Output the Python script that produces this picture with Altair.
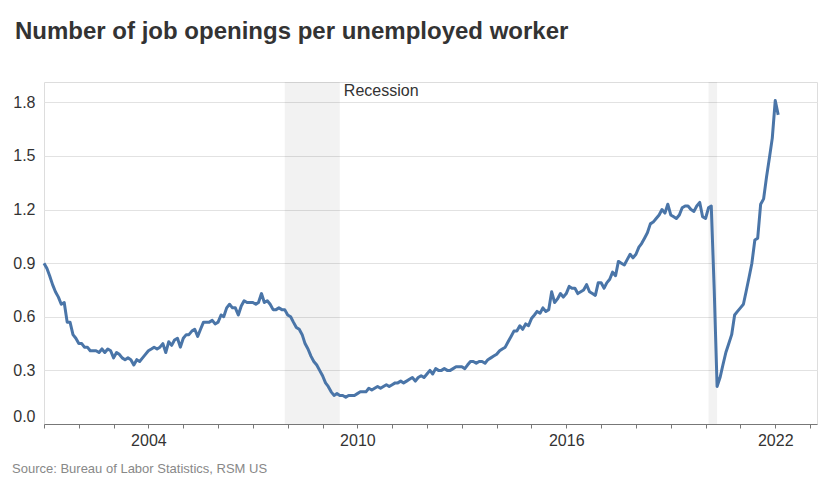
import altair as alt
import pandas as pd

FONT = "Liberation Sans, Arial, sans-serif"
TEXT = "#333333"

# Monthly ratio of job openings per unemployed worker
v2001 = [0.90, 0.87, 0.83, 0.78, 0.74, 0.71, 0.67, 0.68, 0.57, 0.57, 0.50, 0.48]
v2002 = [0.45, 0.45, 0.43, 0.43, 0.41, 0.41, 0.41, 0.40, 0.42, 0.40, 0.42, 0.41]
v2003 = [0.37, 0.40, 0.39, 0.37, 0.36, 0.37, 0.36, 0.33, 0.36, 0.35, 0.37, 0.39]
v2004 = [0.41, 0.42, 0.43, 0.42, 0.43, 0.45, 0.40, 0.46, 0.44, 0.47, 0.48, 0.43]
v2005 = [0.48, 0.50, 0.50, 0.52, 0.53, 0.49, 0.53, 0.57, 0.57, 0.57, 0.58, 0.56]
v2006 = [0.57, 0.61, 0.60, 0.65, 0.67, 0.65, 0.65, 0.61, 0.66, 0.69, 0.68, 0.68]
v2007 = [0.68, 0.67, 0.68, 0.73, 0.68, 0.69, 0.67, 0.64, 0.64, 0.65, 0.64, 0.64]
v2008 = [0.61, 0.60, 0.57, 0.54, 0.53, 0.50, 0.45, 0.42, 0.38, 0.35, 0.33, 0.30]
v2009 = [0.27, 0.23, 0.21, 0.18, 0.16, 0.17, 0.16, 0.16, 0.15, 0.16, 0.16, 0.16]
v2010 = [0.17, 0.18, 0.18, 0.18, 0.20, 0.19, 0.20, 0.21, 0.20, 0.21, 0.22, 0.21]
v2011 = [0.22, 0.23, 0.23, 0.24, 0.23, 0.24, 0.25, 0.26, 0.24, 0.26, 0.27, 0.26]
v2012 = [0.28, 0.30, 0.28, 0.31, 0.30, 0.30, 0.31, 0.30, 0.30, 0.31, 0.32, 0.32]
v2013 = [0.32, 0.31, 0.33, 0.35, 0.35, 0.34, 0.35, 0.35, 0.34, 0.36, 0.37, 0.38]
v2014 = [0.39, 0.41, 0.42, 0.43, 0.46, 0.49, 0.52, 0.52, 0.55, 0.53, 0.56, 0.55]
v2015 = [0.59, 0.61, 0.63, 0.62, 0.65, 0.63, 0.64, 0.74, 0.68, 0.70, 0.73, 0.71]
v2016 = [0.73, 0.77, 0.76, 0.76, 0.73, 0.74, 0.75, 0.78, 0.74, 0.73, 0.72, 0.79]
v2017 = [0.79, 0.76, 0.79, 0.81, 0.85, 0.83, 0.91, 0.90, 0.89, 0.92, 0.95, 0.93]
v2018 = [0.95, 0.99, 1.01, 1.04, 1.07, 1.12, 1.13, 1.15, 1.17, 1.20, 1.18, 1.23]
v2019 = [1.17, 1.16, 1.15, 1.17, 1.21, 1.22, 1.22, 1.20, 1.19, 1.22, 1.24, 1.16]
v2020 = [1.15, 1.21, 1.22, 0.75, 0.21, 0.26, 0.33, 0.40, 0.45, 0.50, 0.61, 0.63]
v2021 = [0.65, 0.67, 0.74, 0.82, 0.90, 1.03, 1.04, 1.23, 1.26, 1.38, 1.49, 1.60]
v2022 = [1.81, 1.73]

values = (v2001 + v2002 + v2003 + v2004 + v2005 + v2006 + v2007 + v2008 + v2009
          + v2010 + v2011 + v2012 + v2013 + v2014 + v2015 + v2016 + v2017
          + v2018 + v2019 + v2020 + v2021 + v2022)
first_month = "2001-01-01"
dates = pd.date_range(first_month, periods=len(values), freq="MS").strftime("%Y-%m-%d")
df = pd.DataFrame({"date": list(dates), "ratio": values})

# Recessions
rec_start = ["2007-12-01", "2020-02-01"]
rec_end = ["2009-07-01", "2020-05-01"]
rec = pd.DataFrame({"start": rec_start, "end": rec_end})
rec_label = pd.DataFrame({"date": ["2009-07-01"], "text": ["Recession"]})

y_ticks = [0.0, 0.3, 0.6, 0.9, 1.2, 1.5, 1.8]
tick_years = list(range(2001, 2024))
title_text = "Number of job openings per unemployed worker"
source_text = "Source: Bureau of Labor Statistics, RSM US"

W, H = 773, 342
PAD_L, PAD_T = 44, 82


def dt(y, m, d):
    return alt.DateTime(year=y, month=m, date=d, utc=True)


x_scale = alt.Scale(type="utc", domain=[dt(2001, 1, 1), dt(2023, 3, 15)], nice=False)
y_scale = alt.Scale(domain=[0, 1.914], nice=False, zero=True)

x_axis = alt.Axis(
    values=[dt(y, 1, 1) for y in tick_years],
    tickCount=len(tick_years) + 10,
    labelExpr="utcyear(datum.value) % 6 == 0 ? utcFormat(datum.value, '%Y') : ''",
    title=None,
    grid=False,
    domainColor="#777777",
    tickColor="#777777",
    tickSize=4,
    labelPadding=4,
    labelFlush=False,
    labelOverlap=False,
    labelFont=FONT,
    labelFontSize=16,
    labelColor=TEXT,
)
y_axis = alt.Axis(
    values=y_ticks,
    format=".1f",
    title=None,
    domain=False,
    ticks=False,
    labelPadding=9,
    labelFlush=True,
    gridColor="#e2e2e2",
    labelFont=FONT,
    labelFontSize=16,
    labelColor=TEXT,
)

shade = alt.Chart(rec).mark_rect(color="#000000", opacity=0.05).encode(
    x=alt.X("start:T", scale=x_scale, axis=x_axis),
    x2="end:T",
    y=alt.value(0),
    y2=alt.value(H),
)

line = alt.Chart(df).mark_line(color="#4a75a8", strokeWidth=3, strokeJoin="round").encode(
    x=alt.X("date:T", scale=x_scale, axis=x_axis),
    y=alt.Y("ratio:Q", scale=y_scale, axis=y_axis),
)

label = alt.Chart(rec_label).mark_text(
    align="left", baseline="middle", dx=4, font=FONT, fontSize=16, color=TEXT
).encode(
    x=alt.X("date:T", scale=x_scale, axis=x_axis),
    y=alt.value(9),
    text="text:N",
)

source = alt.Chart(pd.DataFrame({"t": [source_text]})).mark_text(
    align="left", baseline="alphabetic", font=FONT, fontSize=13, color="#888888"
).encode(
    x=alt.value(12 - PAD_L),
    y=alt.value(473 - PAD_T),
    text="t:N",
)

chart = (
    alt.layer(shade, line, label, source)
    .properties(
        width=W,
        height=H,
        padding={"left": PAD_L, "top": PAD_T, "right": 829 - PAD_L - W, "bottom": 489 - PAD_T - H},
        autosize=alt.AutoSizeParams(type="none"),
        title=alt.TitleParams(
            title_text,
            anchor="start",
            frame="group",
            dx=15 - PAD_L,
            offset=19,
            baseline="alphabetic",
            font=FONT,
            fontSize=24,
            fontWeight="bold",
            color=TEXT,
        ),
    )
    .configure_view(strokeWidth=0, stroke="transparent")
    .configure(background="white")
)

chart.save("out.html", embed_options={"renderer": "svg", "actions": False})
